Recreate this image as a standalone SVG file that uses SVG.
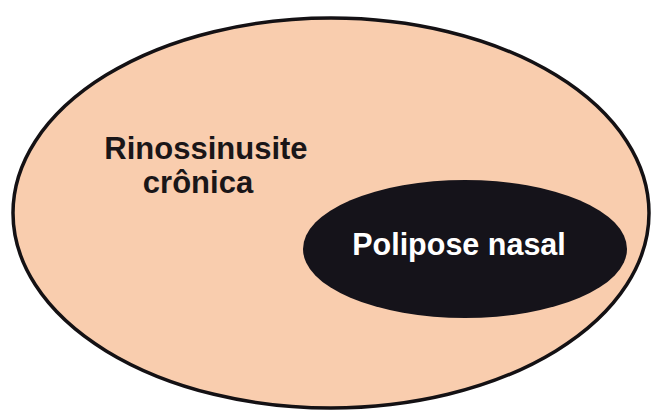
<svg xmlns="http://www.w3.org/2000/svg" width="659" height="417" viewBox="0 0 659 417">
<style>
.lbl{font-family:"Liberation Sans",Arial,sans-serif;font-weight:bold;text-anchor:middle}
</style>
<rect width="659" height="417" fill="#ffffff"/>
<g id="rinossinusite">
<ellipse cx="331" cy="213" rx="318" ry="195" fill="#f9cdae" stroke="#141114" stroke-width="3.5"/>
<text class="lbl" x="206" y="159" font-size="31" fill="#1a1618">Rinossinusite</text>
<text class="lbl" x="198" y="193" font-size="31" fill="#1a1618">crônica</text>
</g>
<g id="polipose">
<ellipse cx="465" cy="249" rx="162" ry="69" fill="#15131a"/>
<text class="lbl" x="459" y="255" font-size="30.5" fill="#ffffff">Polipose nasal</text>
</g>
<g id="connectors"/>
</svg>
